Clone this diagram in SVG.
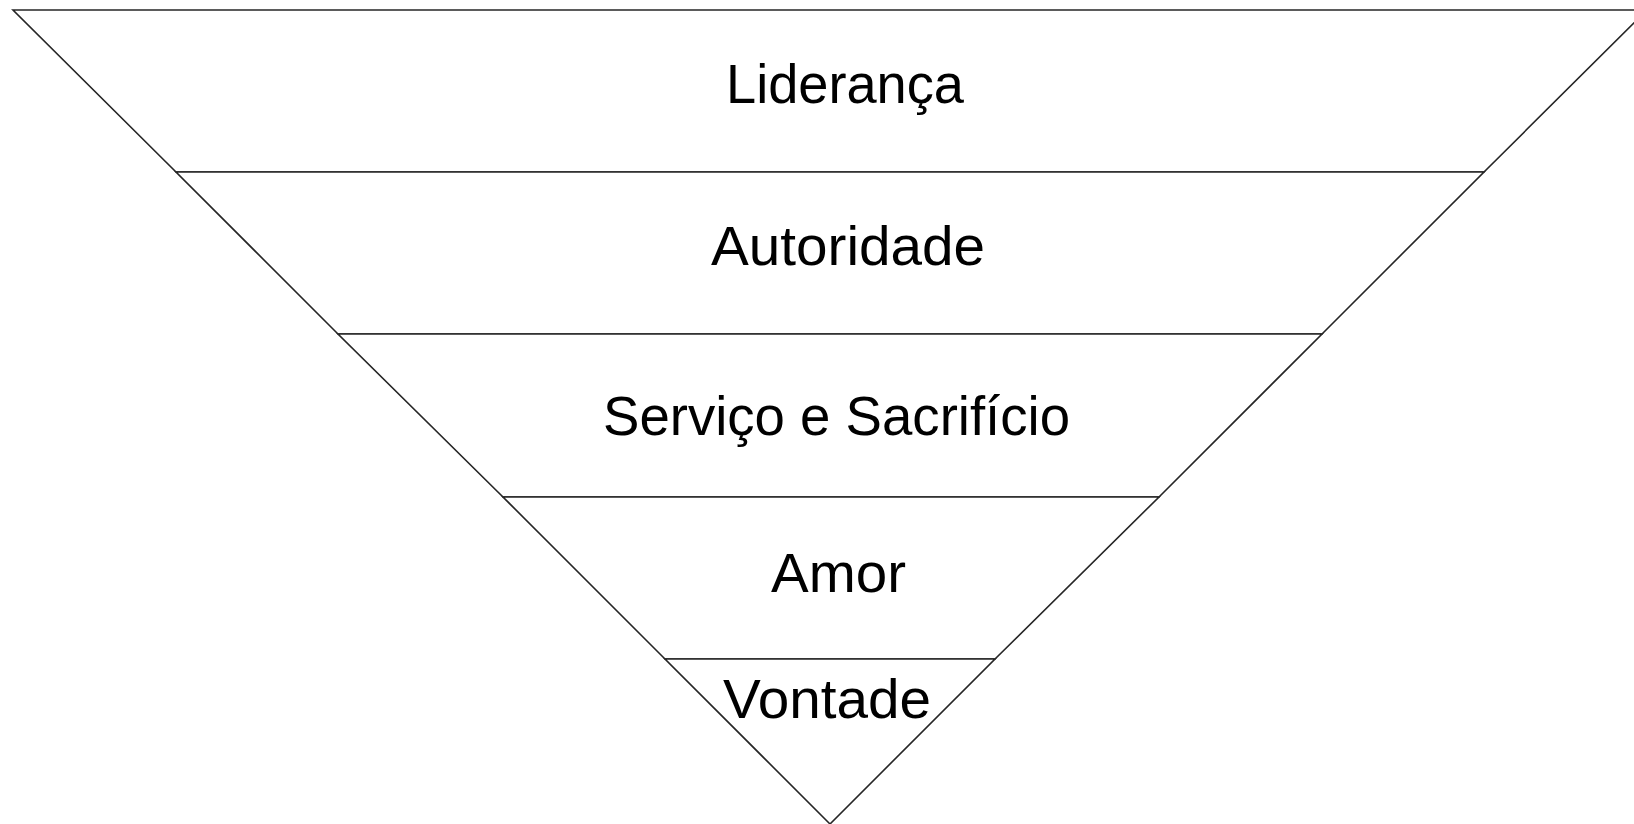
<svg xmlns="http://www.w3.org/2000/svg" width="1634" height="824" viewBox="0 0 1634 824">
<style>
.layer{fill:#ffffff;stroke:#262626;stroke-width:1.6;stroke-linejoin:miter}
.lbl{font-family:"Liberation Sans",Arial,sans-serif;font-size:56px;fill:#000000}
</style>
<rect width="1634" height="824" fill="#ffffff"/>
<g id="lideranca">
<polygon class="layer" points="13,10 1647,10 1484,172 176,172"/>
<text class="lbl" x="726" y="103" textLength="238" lengthAdjust="spacingAndGlyphs">Liderança</text>
</g>
<g id="autoridade">
<polygon class="layer" points="176,172 1484,172 1322,334 338,334"/>
<text class="lbl" x="711" y="265" textLength="274" lengthAdjust="spacingAndGlyphs">Autoridade</text>
</g>
<g id="servico">
<polygon class="layer" points="338,334 1322,334 1159,497 503,497"/>
<text class="lbl" x="603" y="435" textLength="467" lengthAdjust="spacingAndGlyphs">Serviço e Sacrifício</text>
</g>
<g id="amor">
<polygon class="layer" points="503,497 1159,497 995,659 665,659"/>
<text class="lbl" x="771" y="592" textLength="135" lengthAdjust="spacingAndGlyphs">Amor</text>
</g>
<g id="vontade">
<polygon class="layer" points="665,659 995,659 830,824"/>
<text class="lbl" x="723" y="718" textLength="208" lengthAdjust="spacingAndGlyphs">Vontade</text>
</g>
<g id="connectors"></g>
</svg>
